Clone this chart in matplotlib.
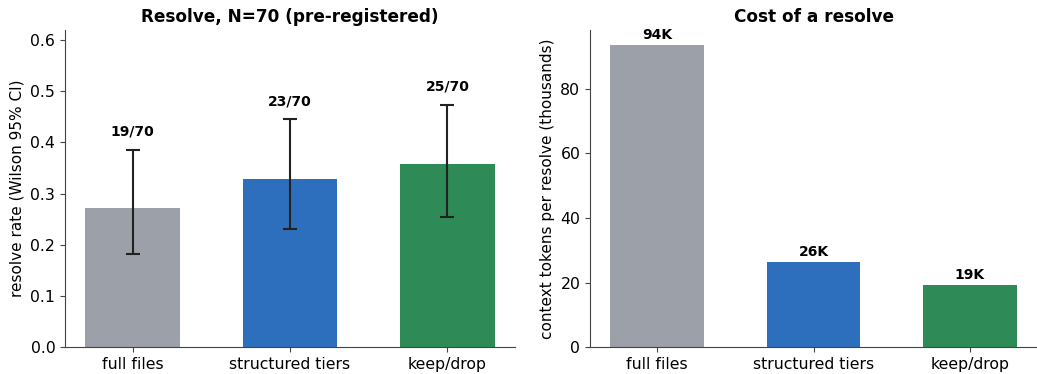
import matplotlib
matplotlib.use("Agg")
import matplotlib.pyplot as plt

categories = ["full files", "structured tiers", "keep/drop"]
resolved = [19, 23, 25]
n_total = 70
ci_low = [0.181, 0.230, 0.255]
ci_high = [0.385, 0.445, 0.474]
tokens_k = [93.6, 26.4, 19.2]
token_labels = ["94K", "26K", "19K"]
colors = ["#9ca0a8", "#2e6fbd", "#2e8b57"]

rates = [r / n_total for r in resolved]

fig = plt.figure(figsize=(10.37, 3.74), dpi=100)
ax1 = fig.add_axes([0.0627, 0.072, 0.434, 0.848])
ax2 = fig.add_axes([0.569, 0.072, 0.431, 0.848])

x = range(len(categories))
yerr = [[r - lo for r, lo in zip(rates, ci_low)], [hi - r for r, hi in zip(rates, ci_high)]]
ax1.bar(x, rates, width=0.6, color=colors)
ax1.errorbar(x, rates, yerr=yerr, fmt="none", ecolor="#222222", capsize=5, elinewidth=1.5, capthick=1.5)
for i, (r, hi) in enumerate(zip(resolved, ci_high)):
    ax1.text(i, hi + 0.022, f"{r}/{n_total}", ha="center", va="bottom", fontsize=10, fontweight="bold")
ax1.set_ylim(0, 0.62)
ax1.set_xticks(list(x))
ax1.set_xticklabels(categories)
ax1.set_ylabel("resolve rate (Wilson 95% CI)", fontsize=11)
ax1.set_title("Resolve, N=70 (pre-registered)", fontsize=12.2, fontweight="bold")

ax2.bar(x, tokens_k, width=0.6, color=colors)
for i, (v, lab) in enumerate(zip(tokens_k, token_labels)):
    ax2.text(i, v + 1.0, lab, ha="center", va="bottom", fontsize=10, fontweight="bold")
ax2.set_ylim(0, 98.3)
ax2.set_yticks([0, 20, 40, 60, 80])
ax2.set_xticks(list(x))
ax2.set_xticklabels(categories)
ax2.set_ylabel("context tokens per resolve (thousands)", fontsize=11)
ax2.set_title("Cost of a resolve", fontsize=12.2, fontweight="bold")

for ax in (ax1, ax2):
    ax.spines["top"].set_visible(False)
    ax.spines["right"].set_visible(False)
    for s in ("left", "bottom"):
        ax.spines[s].set_color("#444444")
    ax.tick_params(labelsize=11.3, color="#444444")

fig.savefig("out.png", dpi=100)
